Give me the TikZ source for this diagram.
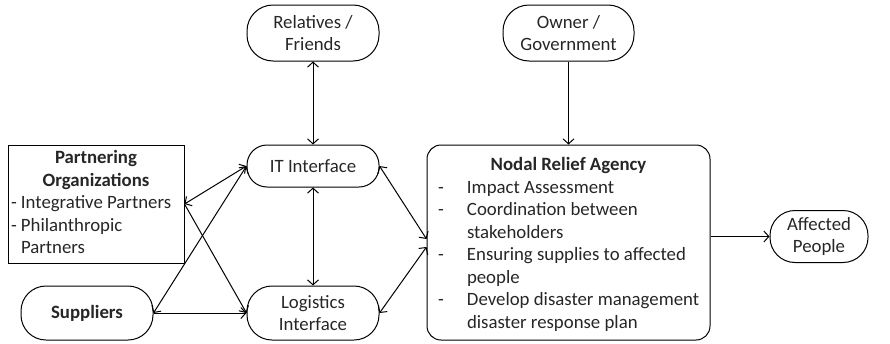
\documentclass[tikz,border=0pt]{standalone}
\usepackage{fontspec}
\setmainfont{Carlito}
\usetikzlibrary{arrows.meta,calc}
\begin{document}
\begin{tikzpicture}[x=1pt,y=-1pt,
  every node/.style={font=\fontsize{18.8}{22.5}\selectfont, text=black!85},
  pill/.style={draw, line width=1pt, rounded corners=#1, minimum width=132pt, align=center, inner sep=0pt},
  box/.style={draw, line width=1pt, inner sep=0pt},
  link/.style={line width=1pt, -{Straight Barb[length=5pt,width=11pt]}},
  blink/.style={line width=1pt, {Straight Barb[length=5pt,width=11pt]}-{Straight Barb[length=5pt,width=11pt]}}]
\useasboundingbox (0,0) rectangle (890,343);
\node[pill=26pt, minimum height=56pt] (rel) at (313,33) {Relatives /\\Friends};
\node[pill=26pt, minimum width=131pt, minimum height=56pt] (own) at (568.5,33) {Owner /\\Government};
\node[pill=20pt, minimum height=42pt] (it) at (313,166) {IT Interface};
\node[pill=25pt, minimum height=54pt] (log) at (313,313) {Logistics\\Interface};
\node[pill=25pt, minimum height=54pt] (sup) at (87,313) {\textbf{Suppliers}};
\node[pill=25pt, minimum width=98pt, minimum height=52pt] (aff) at (819,236.5) {Affected\\People};
\node[box, rounded corners=14pt, minimum width=283pt, minimum height=195pt] (nodal) at (568.5,242.5)
 {\begin{tabular}{@{\hspace{7pt}}p{29pt}@{}p{239pt}@{}}
  \multicolumn{2}{@{}c@{}}{\rule{0pt}{21pt}\textbf{Nodal Relief Agency}}\\
  - & Impact Assessment\\
  - & Coordination between\\
    & stakeholders\\
  - & Ensuring supplies to affected\\
    & people\\
  - & Develop disaster management\\
    & disaster response plan
 \end{tabular}};
\node[box, minimum width=176pt, minimum height=118pt] (part) at (96,204)
 {\begin{tabular}{@{}p{10pt}@{}p{160pt}@{}}
  \multicolumn{2}{@{}c@{}}{\textbf{Partnering}}\\
  \multicolumn{2}{@{}c@{}}{\textbf{Organizations}}\\
  - & Integrative Partners\\
  - & Philanthropic\\
    & Partners
 \end{tabular}};
\draw[blink] (rel) -- (it);
\draw[link] (own) -- (own |- nodal.north);
\draw[blink] (it) -- (log);
\draw[blink] (it.east) -- ([yshift=3.5pt]nodal.west);
\draw[blink] (log.east) -- ([yshift=-4.5pt]nodal.west);
\draw[blink] (part.east) -- (it.west);
\draw[link] (part.east) -- (log.west);
\draw[blink] (sup.east) -- (it.west);
\draw[link] (sup.east) -- (log.west);
\draw[link] (nodal.east |- aff.west) -- (aff.west);
\end{tikzpicture}
\end{document}
